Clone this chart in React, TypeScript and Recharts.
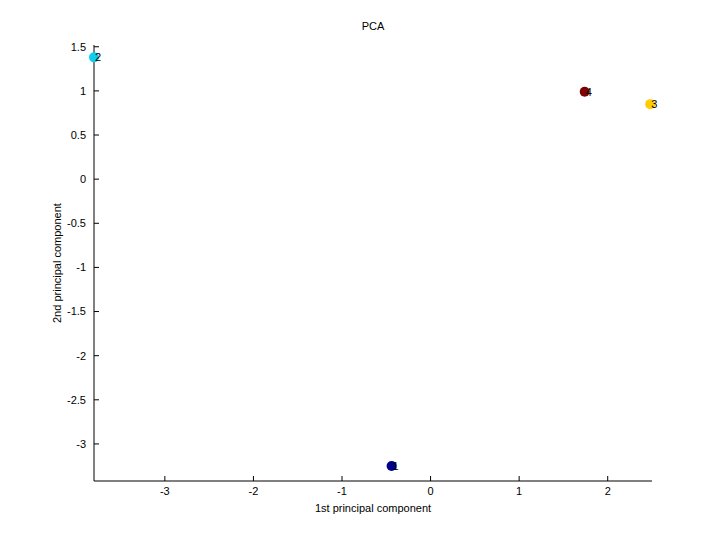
import { ScatterChart, Scatter, XAxis, YAxis, Cell } from "recharts";

const pointLabels = ["1", "2", "3", "4"];
const pc1 = [-0.44, -3.8, 2.48, 1.74];
const pc2 = [-3.25, 1.38, 0.85, 0.99];
const xTicks = [-3, -2, -1, 0, 1, 2];
const yTicks = [-3, -2.5, -2, -1.5, -1, -0.5, 0, 0.5, 1, 1.5];
const pointColors = ["#000090", "#12ccee", "#ffcc00", "#7f0000"];

const data = pc1.map((x, i) => ({ x, y: pc2[i], label: pointLabels[i] }));

const font = "'Liberation Sans', Arial, sans-serif";

// filled dot with its number just to the right, like matlab's text()
const Dot = (props: any) => {
    const { cx, cy, fill, payload } = props;
    return (
        <g>
            <circle cx={cx} cy={cy} r={5} fill={fill} />
            <text x={cx + 1} y={cy + 4} fontSize={11} fontFamily={font} fill="#000">
                {payload.label}
            </text>
        </g>
    );
};

const App = () => {
    return (
        <div style={{ position: "relative", width: 720, height: 540, margin: -8, background: "#fff" }}>
            <div style={{
                position: "absolute", top: 20, left: 0, width: 746, textAlign: "center",
                fontFamily: font, fontSize: 11, color: "#000"
            }}>PCA</div>
            <ScatterChart width={720} height={540} margin={{ top: 45, right: 68, bottom: 0, left: 0 }}>
                <XAxis
                    type="number"
                    dataKey="x"
                    domain={[-3.8, 2.5]}
                    ticks={xTicks}
                    height={59}
                    tickSize={-5}
                    tickMargin={11}
                    axisLine={{ stroke: "#000" }}
                    tickLine={{ stroke: "#000" }}
                    tick={{ fill: "#000", fontSize: 11, fontFamily: font }}
                    label={{ value: "1st principal component", position: "insideBottom", offset: 28, fill: "#000", fontSize: 11, fontFamily: font }}
                />
                <YAxis
                    type="number"
                    dataKey="y"
                    domain={[-3.42, 1.52]}
                    ticks={yTicks}
                    width={94}
                    tickSize={-5}
                    tickMargin={13}
                    axisLine={{ stroke: "#000" }}
                    tickLine={{ stroke: "#000" }}
                    tick={{ fill: "#000", fontSize: 11, fontFamily: font }}
                    label={{ value: "2nd principal component", angle: -90, position: "insideLeft", offset: 57, dy: 60, fill: "#000", fontSize: 11, fontFamily: font }}
                />
                <Scatter data={data} shape={<Dot />} isAnimationActive={false}>
                    {data.map((d, i) => (
                        <Cell key={d.label} fill={pointColors[i]} />
                    ))}
                </Scatter>
            </ScatterChart>
        </div>
    );
};

export default App;
